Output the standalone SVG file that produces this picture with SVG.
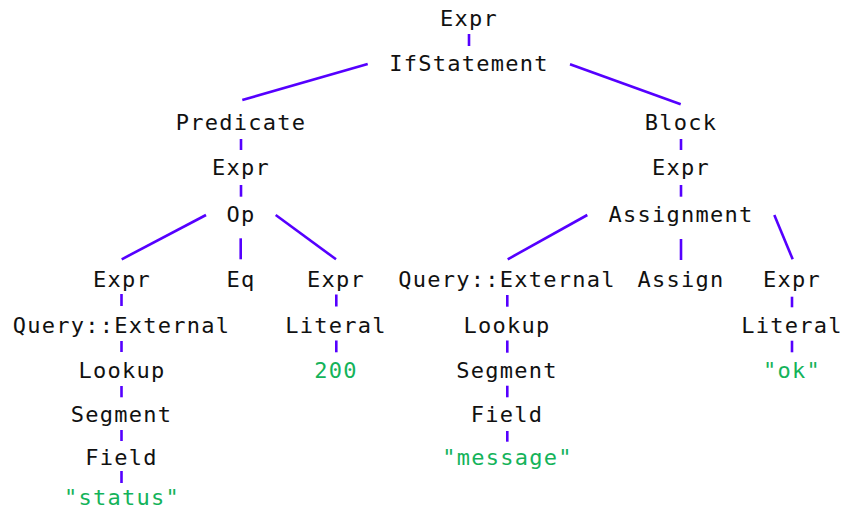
<svg xmlns="http://www.w3.org/2000/svg" width="843" height="510" viewBox="0 0 843 510">
<style>
text{font-family:"DejaVu Sans Mono","Liberation Mono",monospace;font-size:22px;letter-spacing:1.25px;text-anchor:middle;fill:#111}
text.lit{fill:#14b35a}
#edges line{stroke:#5500ff;stroke-width:2.6;stroke-linecap:butt}
</style>
<rect width="843" height="510" fill="#fff"/>
<g id="edges">
<line x1="469" y1="34" x2="469" y2="46"/>
<line x1="367.7" y1="64" x2="242.3" y2="100"/>
<line x1="570" y1="64.3" x2="680.7" y2="104.3"/>
<line x1="241" y1="139" x2="241" y2="150"/>
<line x1="681" y1="139" x2="681" y2="150"/>
<line x1="241" y1="185" x2="241" y2="196.7"/>
<line x1="681" y1="185" x2="681" y2="196.7"/>
<line x1="206" y1="215" x2="121.7" y2="259.3"/>
<line x1="240.7" y1="238.3" x2="240.7" y2="259.3"/>
<line x1="275.7" y1="215" x2="336" y2="259.3"/>
<line x1="587.3" y1="215" x2="507.7" y2="259.3"/>
<line x1="681" y1="239" x2="681" y2="260"/>
<line x1="774.3" y1="215" x2="792.7" y2="259.3"/>
<line x1="121.5" y1="294" x2="121.5" y2="306"/>
<line x1="121.5" y1="341" x2="121.5" y2="352"/>
<line x1="121.5" y1="386" x2="121.5" y2="397.3"/>
<line x1="121.5" y1="430" x2="121.5" y2="441"/>
<line x1="121.5" y1="471" x2="121.5" y2="483"/>
<line x1="336.3" y1="294.5" x2="336.3" y2="306.5"/>
<line x1="336.3" y1="340.5" x2="336.3" y2="352.3"/>
<line x1="507.3" y1="295" x2="507.3" y2="306.7"/>
<line x1="507.3" y1="340.5" x2="507.3" y2="352.7"/>
<line x1="507.3" y1="385.7" x2="507.3" y2="397.3"/>
<line x1="507.3" y1="431" x2="507.3" y2="441.7"/>
<line x1="792" y1="296.7" x2="792" y2="307.3"/>
<line x1="792" y1="340.7" x2="792" y2="352.3"/>
</g>
<g id="n_expr_root"><text x="469" y="26">Expr</text></g>
<g id="n_if"><text x="469" y="71">IfStatement</text></g>
<g id="n_predicate"><text x="241" y="130">Predicate</text></g>
<g id="n_block"><text x="681" y="130">Block</text></g>
<g id="n_expr_p"><text x="241" y="175">Expr</text></g>
<g id="n_expr_b"><text x="681" y="175">Expr</text></g>
<g id="n_op"><text x="241" y="222">Op</text></g>
<g id="n_assignment"><text x="681" y="222">Assignment</text></g>
<g id="n_expr_l"><text x="122" y="287">Expr</text></g>
<g id="n_eq"><text x="241" y="287">Eq</text></g>
<g id="n_expr_r"><text x="336" y="287">Expr</text></g>
<g id="n_query_m"><text x="507" y="287">Query::External</text></g>
<g id="n_assign"><text x="681" y="287">Assign</text></g>
<g id="n_expr_rr"><text x="792" y="287">Expr</text></g>
<g id="n_query_l"><text x="121.5" y="333">Query::External</text></g>
<g id="n_literal_1"><text x="336" y="333">Literal</text></g>
<g id="n_lookup_m"><text x="507" y="333">Lookup</text></g>
<g id="n_literal_2"><text x="792" y="333">Literal</text></g>
<g id="n_lookup_l"><text x="122" y="378">Lookup</text></g>
<g id="n_200"><text class="lit" x="336" y="378">200</text></g>
<g id="n_segment_m"><text x="507" y="378">Segment</text></g>
<g id="n_ok"><text class="lit" x="792" y="378">"ok"</text></g>
<g id="n_segment_l"><text x="121.5" y="422">Segment</text></g>
<g id="n_field_m"><text x="507" y="422">Field</text></g>
<g id="n_field_l"><text x="121.5" y="465">Field</text></g>
<g id="n_message"><text class="lit" x="507.5" y="465">"message"</text></g>
<g id="n_status"><text class="lit" x="122" y="504.5">"status"</text></g>
</svg>
